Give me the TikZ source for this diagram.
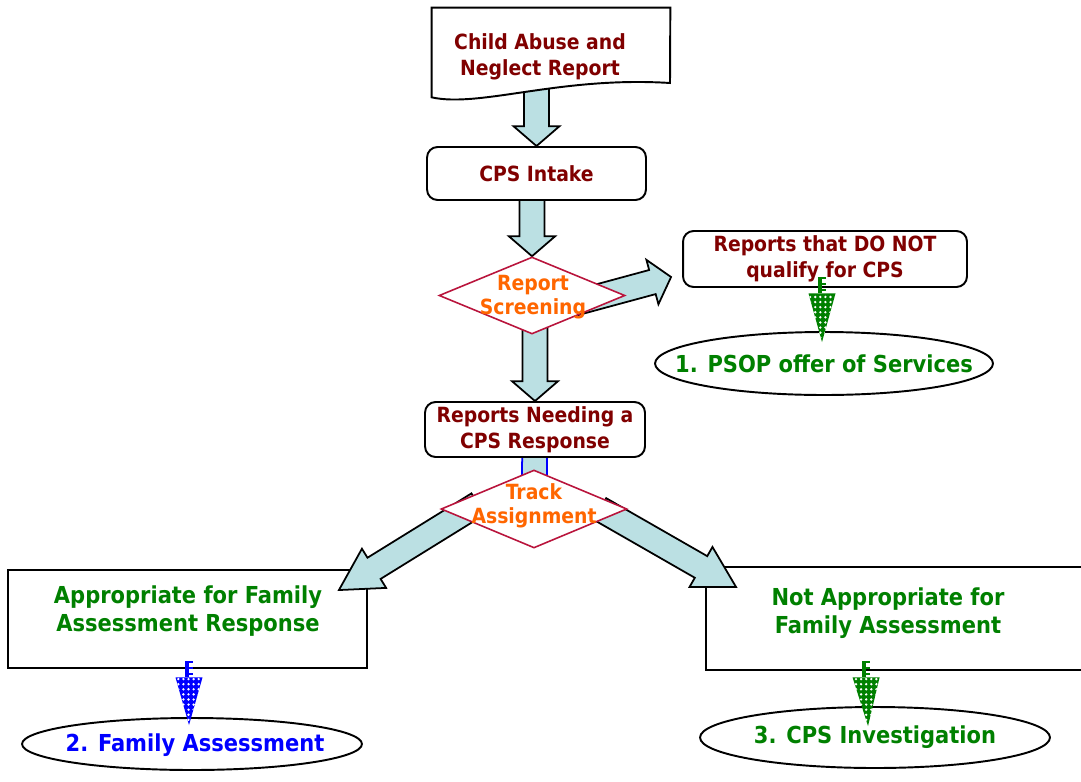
\documentclass[tikz,border=0pt]{standalone}
\usepackage{fontspec}
\setmainfont{DejaVu Sans Condensed}
\definecolor{darkred}{RGB}{128,0,0}
\definecolor{screenorange}{RGB}{255,102,0}
\definecolor{trackgreen}{RGB}{0,128,0}
\definecolor{famblue}{RGB}{0,0,255}
\definecolor{arrowcyan}{RGB}{187,224,227}
\definecolor{diamondred}{RGB}{185,20,60}
\usetikzlibrary{positioning, calc, shapes.geometric, patterns.meta}
\pgfdeclarelayer{boxlayer}
\pgfdeclarelayer{arrowlayer}
\pgfsetlayers{boxlayer,arrowlayer,main}

\newcommand{\shaftw}{7.1pt}
\newcommand{\headw}{13.1pt}
% block arrow: [style]{from}{to}{head length}
\newcommand{\bigarrow}[4][]{%
  \coordinate (ah) at ($(#3)!#4!(#2)$);
  \draw[blockarrow,#1] ($(#2)!\shaftw!90:(#3)$) -- ($(ah)!\shaftw!-90:(#2)$)
    -- ($(ah)!\headw!-90:(#2)$) -- (#3) -- ($(ah)!\headw!90:(#2)$)
    -- ($(ah)!\shaftw!90:(#2)$) -- ($(#2)!\shaftw!-90:(#3)$) -- cycle;}
% dotted arrow: {colour}{stem top}{tip}
\newcommand{\dotarrow}[3]{%
  \fill[#1] ($(#2)+(-4,0)$) rectangle ($(#2)+(0,16.5)$);
  \foreach \t in {0,6,12}{\fill[#1] ($(#2)+(0,\t)$) rectangle ($(#2)+(4,\t+2.5)$);}
  \fill[#1, postaction={pattern={Dots[distance=2.9pt, radius=0.75pt]}, pattern color=white}]
    ($(#2)+(-13.5,16.5)$) -- ($(#2)+(13.5,16.5)$) -- (#3) -- cycle;}

\begin{document}
\begin{tikzpicture}[x=0.02cm, y=-0.02cm,
    redtext/.style={text=darkred, align=center, font=\fontsize{11.9}{14.8}\selectfont\bfseries},
    orangetext/.style={text=screenorange, align=center, font=\fontsize{11.9}{13.6}\selectfont\bfseries},
    greentext/.style={text=trackgreen, align=center, font=\fontsize{13.3}{15.9}\selectfont\bfseries},
    rbox/.style={redtext, draw, line width=1.1pt, rounded corners=6pt, fill=white, inner sep=0pt},
    frame/.style={draw, line width=1.1pt, inner sep=0pt},
    dia/.style={diamond, draw=diamondred, line width=0.9pt, fill=white, inner sep=0pt,
                minimum width=3.72cm, minimum height=1.54cm},
    oval/.style={ellipse, draw, line width=1.1pt, inner sep=0pt},
    blockarrow/.style={draw, line width=1pt, fill=arrowcyan, line join=miter}
  ]
  \useasboundingbox (0,0) rectangle (1081,781);

  % report document
  \node[inner sep=0pt, minimum width=4.76cm, minimum height=1.78cm] (report) at (551,52.5) {};
  \draw[line width=1.1pt, fill=white] (report.north west) -- (report.north east) -- (670,83)
    .. controls (560,76) and (480,108) .. (report.south west) -- cycle;
  \node[redtext] (report-t) at (540,57) {Child Abuse and\\Neglect Report};

  \node[rbox, minimum width=4.38cm, minimum height=1.06cm] (intake) at (536.5,173.5) {CPS Intake};
  \node[dia] (scr) at (532,295.5) {};
  \node[orangetext] (scr-t) at (533,297) {Report\\Screening};
  \node[rbox, minimum width=5.68cm, minimum height=1.12cm] (noq) at (825,259) {Reports that DO NOT\\qualify for CPS};
  \node[oval, minimum width=6.76cm, minimum height=1.26cm] (psop-o) at (824,363.5) {};
  \node[greentext] (psop) at (824,364) {1. PSOP offer of Services};
  \node[rbox, minimum width=4.4cm, minimum height=1.1cm] (need) at (535,429.5) {Reports Needing a\\CPS Response};
  \node[dia, minimum height=1.56cm] (track) at (534,509) {};
  \node[orangetext] (track-t) at (534,506) {Track\\Assignment};

  \begin{pgfonlayer}{boxlayer}
    \node[frame, minimum width=7.18cm, minimum height=1.96cm] (fam) at (187.5,619) {};
    \node[frame, minimum width=7.7cm, minimum height=2.06cm] (notfam) at (898.5,618.5) {};
  \end{pgfonlayer}
  \node[greentext] (fam-t) at (188,611) {Appropriate for Family\\Assessment Response};
  \node[greentext] (notfam-t) at (888,613) {Not Appropriate for\\Family Assessment};

  \node[oval, minimum width=6.8cm, minimum height=1.04cm] (famass-o) at (192,744) {};
  \node[greentext, text=famblue] (famass) at (195,745) {2. Family Assessment};
  \node[oval, minimum width=7cm, minimum height=1.22cm] (inv-o) at (875,737.5) {};
  \node[greentext] (inv) at (875,737) {3. CPS Investigation};

  % arrow ends
  \coordinate (report-out) at (report.center -| intake.north);
  \coordinate (intake-out) at (intake.center -| scr.north);
  \coordinate (scr-out) at ($(scr.center)+(43,7.5)$);
  \coordinate (scr-down) at (scr.center -| need.north);
  \coordinate (noq-in) at ($(noq.west)+(-11,18)$);
  \coordinate (track-l) at ($(track.center)+(-56,-5)$);
  \coordinate (track-r) at ($(track.center)+(66,0)$);
  \coordinate (fam-in) at ($(fam.north east)+(-29,21)$);
  \coordinate (notfam-in) at ($(notfam.north west)+(31,21)$);

  \begin{pgfonlayer}{arrowlayer}
    \bigarrow{report-out}{intake.north}{11.3pt}
    \bigarrow{intake-out}{scr.north}{11.3pt}
    \bigarrow{scr-out}{noq-in}{11pt}
    \bigarrow{scr-down}{need.north}{11.3pt}
    \bigarrow[draw=famblue]{need.center}{track.center}{11.3pt}
    \bigarrow{track-l}{fam-in}{23.5pt}
    \bigarrow{track-r}{notfam-in}{23pt}
  \end{pgfonlayer}

  % dotted arrows
  \coordinate (noq-dot) at ($(noq.south)+(-3,-11)$);
  \coordinate (psop-tip) at ($(psop-o.north)+(-2,11)$);
  \coordinate (fam-dot) at ($(fam.south)+(1.5,-8)$);
  \coordinate (famass-tip) at ($(famass-o.north)+(-3,8)$);
  \coordinate (notfam-dot) at ($(notfam.south west)+(161,-10)$);
  \coordinate (inv-tip) at ($(inv-o.north)+(-7,20)$);
  \dotarrow{trackgreen}{noq-dot}{psop-tip}
  \dotarrow{famblue}{fam-dot}{famass-tip}
  \dotarrow{trackgreen}{notfam-dot}{inv-tip}
\end{tikzpicture}
\end{document}
